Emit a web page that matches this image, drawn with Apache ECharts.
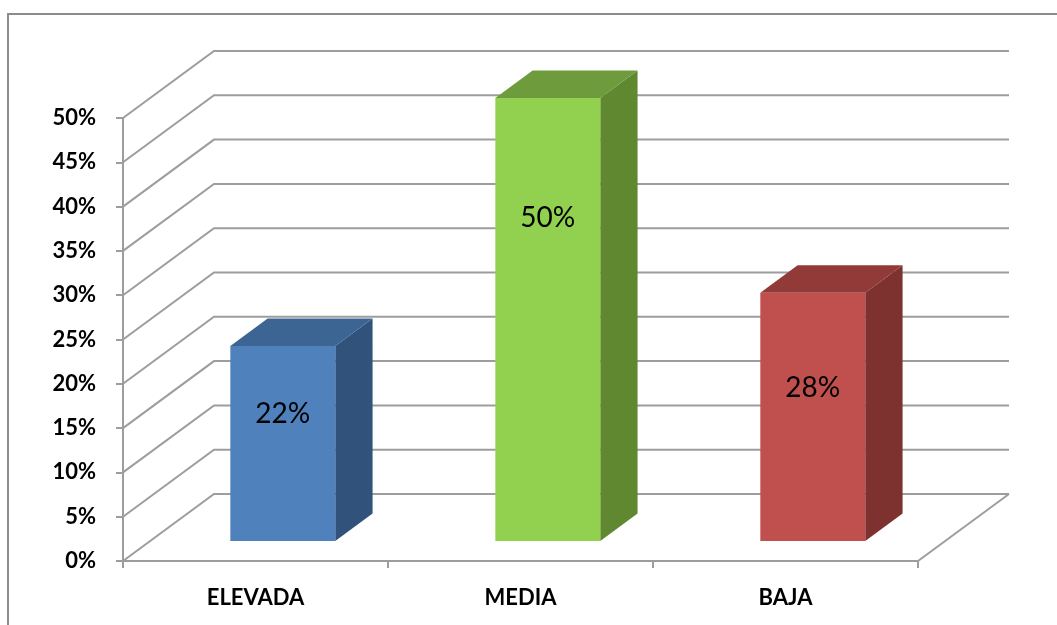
<!DOCTYPE html>
<html>
<head>
<meta charset="utf-8">
<script src="https://cdn.jsdelivr.net/npm/echarts@6/dist/echarts.min.js"></script>
<style>
  html, body { margin: 0; padding: 0; background: #ffffff; }
  #chart { width: 1057px; height: 625px; }
</style>
</head>
<body>
<div id="chart"></div>
<script>
// Levels and their share of responses
const categories = ['ELEVADA', 'MEDIA', 'BAJA'];
const percentages = [22, 50, 28];
const yTicks = [0, 5, 10, 15, 20, 25, 30, 35, 40, 45, 50];

// Shading for the three visible faces of each column
const frontColors = ['#4F81BD', '#92D050', '#C0504D'];
const sideColors  = ['#31527B', '#5F8831', '#7D3230'];
const topColors   = ['#3D6593', '#6E9C3C', '#923A37'];

// Oblique projection of the depth axis (pixels for full depth)
const DEPTH_X = 91;
const DEPTH_Y = -67;
// Column occupies this slice of the depth and of the category band
const DEPTH_FRONT = 0.30;
const DEPTH_BACK = 0.71;
const BAR_SHARE = 0.396;
// Height of each value label within its column face (0 = base, 1 = top)
const LABEL_RISE = [0.65, 0.73, 0.615];

const GRID_COLOR = '#9d9d9d';
const FONT = 'Lato, "Liberation Sans", Arial, sans-serif';

const chart = echarts.init(document.getElementById('chart'), null, { renderer: 'canvas' });

function renderWalls(params, api) {
  const v = api.value(1);
  const band = api.size([1, 0])[0];
  const first = api.coord([0, v]);
  const last = api.coord([categories.length - 1, v]);
  const x0 = first[0] - band / 2;
  const x1 = last[0] + band / 2;
  const y = first[1];
  const children = [{
    type: 'polyline',
    shape: { points: [[x0, y], [x0 + DEPTH_X, y + DEPTH_Y], [x1 + DEPTH_X, y + DEPTH_Y]] },
    style: { stroke: GRID_COLOR, lineWidth: 2, fill: null }
  }];
  if (v === 0) {
    // right edge of the floor
    children.push({
      type: 'line',
      shape: { x1: x1, y1: y, x2: x1 + DEPTH_X, y2: y + DEPTH_Y },
      style: { stroke: GRID_COLOR, lineWidth: 2 }
    });
  }
  return { type: 'group', children: children };
}

function renderColumn(params, api) {
  const i = params.dataIndex;
  const v = api.value(1);
  const band = api.size([1, 0])[0];
  const base = api.coord([i, 0]);
  const top = api.coord([i, v]);
  const w = band * BAR_SHARE;
  const fx = base[0] - w / 2 + DEPTH_FRONT * DEPTH_X;
  const fyb = base[1] + DEPTH_FRONT * DEPTH_Y;
  const fyt = top[1] + DEPTH_FRONT * DEPTH_Y;
  const d = DEPTH_BACK - DEPTH_FRONT;
  const dx = d * DEPTH_X, dy = d * DEPTH_Y;
  const labelY = fyb - LABEL_RISE[i] * (fyb - fyt);
  return {
    type: 'group',
    children: [
      {
        type: 'polygon',
        shape: { points: [[fx + w, fyt], [fx + w + dx, fyt + dy], [fx + w + dx, fyb + dy], [fx + w, fyb]] },
        style: { fill: sideColors[i] }
      },
      {
        type: 'polygon',
        shape: { points: [[fx, fyt], [fx + dx, fyt + dy], [fx + w + dx, fyt + dy], [fx + w, fyt]] },
        style: { fill: topColors[i] }
      },
      {
        type: 'rect',
        shape: { x: fx, y: fyt, width: w, height: fyb - fyt },
        style: { fill: frontColors[i] }
      },
      {
        type: 'text',
        style: {
          x: fx + w / 2, y: labelY,
          text: v + '%',
          fill: '#000000',
          font: 'normal 28px ' + FONT,
          align: 'center',
          verticalAlign: 'middle'
        }
      }
    ]
  };
}

chart.setOption({
  animation: false,
  backgroundColor: '#ffffff',
  graphic: [{
    type: 'rect',
    shape: { x: 8, y: 14, width: 1060, height: 620 },
    style: { fill: null, stroke: '#8c8c8c', lineWidth: 2 },
    z: 100
  }],
  grid: { left: 123, right: 139, top: 118, bottom: 64 },
  xAxis: {
    type: 'category',
    data: categories,
    axisLine: { lineStyle: { color: GRID_COLOR, width: 2 } },
    axisTick: { show: true, length: 7, lineStyle: { color: GRID_COLOR, width: 2 } },
    axisLabel: { color: '#000000', fontFamily: FONT, fontWeight: 'bold', fontSize: 22, margin: 26 },
    splitLine: { show: false }
  },
  yAxis: {
    type: 'value',
    min: 0, max: 50, interval: 5,
    axisLine: { show: true, lineStyle: { color: GRID_COLOR, width: 2 } },
    axisTick: { show: true, length: 7, lineStyle: { color: GRID_COLOR, width: 2 } },
    axisLabel: { color: '#000000', fontFamily: FONT, fontWeight: 'bold', fontSize: 22, margin: 27,
                 formatter: '{value}%' },
    splitLine: { show: false }
  },
  series: [
    {
      type: 'custom',
      renderItem: renderWalls,
      data: yTicks.map(t => [0, t]),
      z: 1,
      silent: true
    },
    {
      type: 'custom',
      renderItem: renderColumn,
      data: percentages.map((p, i) => [i, p]),
      z: 3
    }
  ]
});
</script>
</body>
</html>
